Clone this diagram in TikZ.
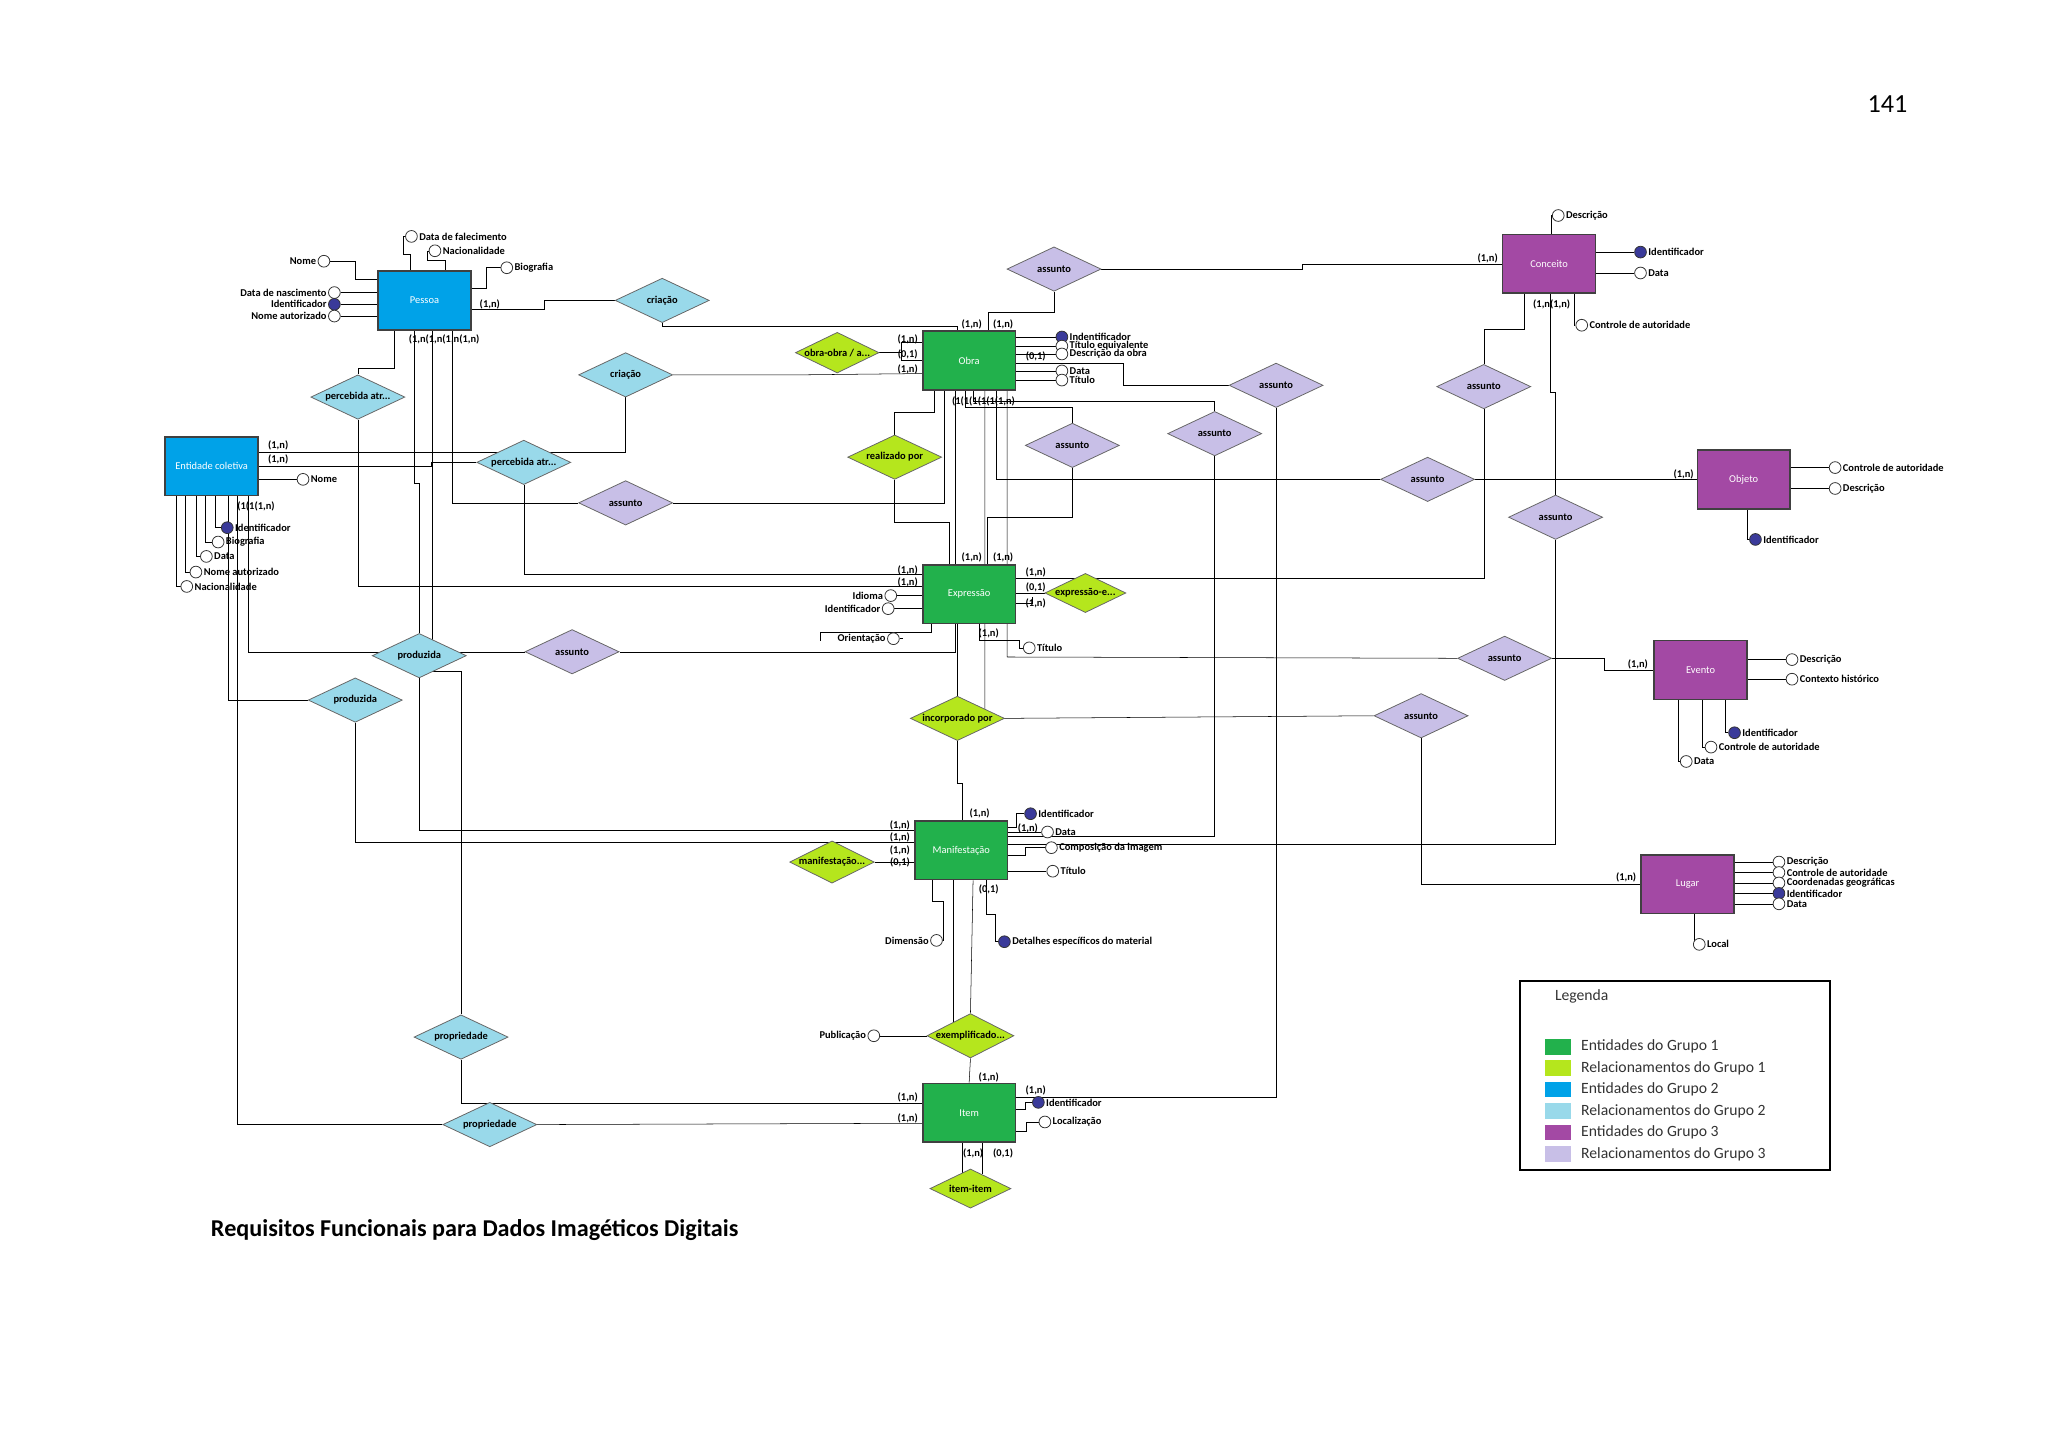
\documentclass[tikz,border=0pt]{standalone}
\usepackage{fontspec}
\setmainfont{Carlito}
\usetikzlibrary{shapes.geometric,calc,backgrounds}
\definecolor{gA}{HTML}{22B14C}\definecolor{gB}{HTML}{B5E61D}
\definecolor{bA}{HTML}{00A2E8}\definecolor{bB}{HTML}{99D9EA}
\definecolor{pA}{HTML}{A349A4}\definecolor{pB}{HTML}{C8BFE7}
\definecolor{idc}{HTML}{3A3A9A}
\tikzset{
 ent/.style={rectangle,draw=black!75,line width=1.2pt,minimum width=71pt,minimum height=45pt,inner sep=0,font=\fontsize{8}{9}\selectfont,text=white},
 rel/.style={diamond,aspect=2,draw=black!60,line width=0.6pt,minimum width=72pt,minimum height=34pt,inner sep=0,font=\fontsize{8}{9}\selectfont\bfseries},
 att/.style={circle,draw=black!80,fill=white,line width=0.6pt,minimum size=9pt,inner sep=0},
 key/.style={att,fill=idc},
 lbl/.style={font=\fontsize{8}{9}\selectfont\bfseries,inner sep=1pt,label distance=0pt},
 card/.style={font=\fontsize{8}{9}\selectfont\bfseries,inner sep=0},
}
\begin{document}
\begin{tikzpicture}[x=1pt,y=-1pt]
\useasboundingbox (0,0) rectangle (1568,1108);
\node[font=\fontsize{20}{22}\selectfont] (pg) at (1445,80) {141};
\node[anchor=west,font=\fontsize{18.5}{20}\selectfont\bfseries] (cap) at (158,942) {Requisitos Funcionais para Dados Imagéticos Digitais};
% entities
\node[ent,fill=bA] (pessoa) at (325,230) {Pessoa};
\node[ent,fill=bA] (ent) at (162,357) {Entidade coletiva};
\node[ent,fill=gA] (obra) at (742,276) {Obra};
\node[ent,fill=gA] (expr) at (742,455) {Expressão};
\node[ent,fill=gA] (manif) at (736,651) {Manifestação};
\node[ent,fill=gA] (item) at (742,852) {Item};
\node[ent,fill=pA] (conc) at (1186,202) {Conceito};
\node[ent,fill=pA] (obj) at (1335,367) {Objeto};
\node[ent,fill=pA] (evt) at (1302,513) {Evento};
\node[ent,fill=pA] (lug) at (1292,677) {Lugar};
% relationships
\node[rel,fill=pB] (as1) at (807,206) {assunto};
\node[rel,fill=bB] (cr1) at (507,230) {criação};
\node[rel,fill=bB] (cr2) at (479,287) {criação};
\node[rel,fill=gB,minimum width=64pt,minimum height=30pt] (oo) at (641,270) {obra-obra / a...};
\node[rel,fill=bB] (pe1) at (274,304) {percebida atr...};
\node[rel,fill=bB] (pe2) at (401,354) {percebida atr...};
\node[rel,fill=pB] (as2) at (479,385) {assunto};
\node[rel,fill=gB] (real) at (685,350) {realizado por};
\node[rel,fill=pB] (as4) at (821,341) {assunto};
\node[rel,fill=pB] (as5) at (930,332) {assunto};
\node[rel,fill=pB] (as9) at (977,295) {assunto};
\node[rel,fill=pB] (as10) at (1136,296) {assunto};
\node[rel,fill=pB] (as6) at (1093,367) {assunto};
\node[rel,fill=pB] (as11) at (1191,396) {assunto};
\node[rel,fill=gB,minimum width=62pt,minimum height=30pt] (expe) at (831,454) {expressão-e...};
\node[rel,fill=bB] (pr1) at (321,502) {produzida};
\node[rel,fill=pB] (as3) at (438,499) {assunto};
\node[rel,fill=bB] (pr2) at (272,536) {produzida};
\node[rel,fill=gB] (inc) at (733,550) {incorporado por};
\node[rel,fill=pB] (as7) at (1152,504) {assunto};
\node[rel,fill=pB] (as8) at (1088,548) {assunto};
\node[rel,fill=gB,minimum width=62pt,minimum height=30pt] (mm) at (637,660) {manifestação...};
\node[rel,fill=gB,minimum width=66pt] (exem) at (743,793) {exemplificado...};
\node[rel,fill=bB] (prp1) at (353,794) {propriedade};
\node[rel,fill=bB] (prp2) at (375,861) {propriedade};
\node[rel,fill=gB,minimum width=62pt,minimum height=30pt] (ii) at (743,910) {item-item};
% attributes
\node[att,label={[lbl]left:Nome}] (pNo) at (248,200) {};
\node[att,label={[lbl]left:Data de nascimento}] (pDn) at (256,224) {};
\node[key,label={[lbl]left:Identificador}] (pId) at (256,233) {};
\node[att,label={[lbl]left:Nome autorizado}] (pNa) at (256,242) {};
\node[att,label={[lbl]right:Data de falecimento}] (pDf) at (315,181) {};
\node[att,label={[lbl]right:Nacionalidade}] (pNc) at (333,192) {};
\node[att,label={[lbl]right:Biografia}] (pBi) at (388,205) {};
\node[att,label={[lbl]right:Nome}] (eNo) at (232,367) {};
\node[key,label={[lbl]right:Identificador}] (eId) at (174,404) {};
\node[att,label={[lbl]right:Biografia}] (eBi) at (167,415) {};
\node[att,label={[lbl]right:Data}] (eDa) at (158,426) {};
\node[att,label={[lbl]right:Nome autorizado}] (eNa) at (150,438) {};
\node[att,label={[lbl]right:Nacionalidade}] (eNc) at (143,449) {};
\node[key,label={[lbl]right:Indentificador}] (oId) at (813,258) {};
\node[att,label={[lbl]right:Título equivalente}] (oTe) at (813,265) {};
\node[att,label={[lbl]right:Descrição da obra}] (oDe) at (813,271) {};
\node[att,label={[lbl]right:Data}] (oDa) at (813,284) {};
\node[att,label={[lbl]right:Título}] (oTi) at (813,291) {};
\node[att,label={[lbl]right:Descrição}] (cDe) at (1193,165) {};
\node[key,label={[lbl]right:Identificador}] (cId) at (1256,193) {};
\node[att,label={[lbl]right:Data}] (cDa) at (1256,209) {};
\node[att,label={[lbl]right:Controle de autoridade}] (cCa) at (1211,249) {};
\node[att,label={[lbl]right:Controle de autoridade}] (bCa) at (1405,358) {};
\node[att,label={[lbl]right:Descrição}] (bDe) at (1405,374) {};
\node[key,label={[lbl]right:Identificador}] (bId) at (1344,413) {};
\node[att,label={[lbl]right:Descrição}] (vDe) at (1372,505) {};
\node[att,label={[lbl]right:Contexto histórico}] (vCh) at (1372,520) {};
\node[key,label={[lbl]right:Identificador}] (vId) at (1328,561) {};
\node[att,label={[lbl]right:Controle de autoridade}] (vCa) at (1310,572) {};
\node[att,label={[lbl]right:Data}] (vDa) at (1291,583) {};
\node[att,label={[lbl]right:Descrição}] (lDe) at (1362,660) {};
\node[att,label={[lbl]right:Controle de autoridade}] (lCa) at (1362,668) {};
\node[att,label={[lbl]right:Coordenadas geográficas}] (lCg) at (1362,676) {};
\node[key,label={[lbl]right:Identificador}] (lId) at (1362,684) {};
\node[att,label={[lbl]right:Data}] (lDa) at (1362,692) {};
\node[att,label={[lbl]right:Local}] (lLo) at (1301,723) {};
\node[att,label={[lbl]left:Idioma}] (xId) at (682,456) {};
\node[att,label={[lbl]left:Identificador}] (xIf) at (680,466) {};
\node[att,label={[lbl]left:Orientação}] (xOr) at (684,489) {};
\node[att,label={[lbl]right:Título}] (xTi) at (788,496) {};
\node[key,label={[lbl]right:Identificador}] (mId) at (789,623) {};
\node[att,label={[lbl]right:Data}] (mDa) at (802,637) {};
\node[att,label={[lbl]right:Composição da imagem}] (mCo) at (805,649) {};
\node[att,label={[lbl]right:Título}] (mTi) at (806,667) {};
\node[att,label={[lbl]left:Dimensão}] (mDi) at (717,720) {};
\node[key,label={[lbl]right:Detalhes específicos do material}] (mDe) at (769,721) {};
\node[att,label={[lbl]left:Publicação}] (mPu) at (669,793) {};
\node[key,label={[lbl]right:Identificador}] (iId) at (795,844) {};
\node[att,label={[lbl]right:Localização}] (iLo) at (800,859) {};
% connectors
\begin{scope}[on background layer,draw=black!65,line width=0.8pt]
\draw (pNo.east)--(272,200)--(272,214)--(pessoa.west|-0,214);
\draw (pDn.east)--(pessoa.west|-0,224);
\draw (pId.east)--(pessoa.west|-0,233);
\draw (pNa.east)--(pessoa.west|-0,242);
\draw (pDf.west)--(309,181)--(309,195)--(314,195)--(pessoa.north-|314,0);
\draw (pNc.west)--(327,192)--(327,199)--(341,199)--(pessoa.north-|341,0);
\draw (pBi.west)--(372,205)--(372,221)--(pessoa.east|-0,221);
\draw (pessoa.east|-0,237)--(417,237)--(417,230)--(cr1.west);
\draw (cr1.south)--(507,250)--(733,250)--(obra.north-|733,0);
\draw (pessoa.south-|302,0)--(302,282)--(274,282)--(pe1.north);
\draw (pessoa.south-|317,0)--(317,370)--(321,370)--(pr1.north);
\draw (pessoa.south-|331,0)--(331,514)--(353,514)--(prp1.north);
\draw (pessoa.south-|346,0)--(346,385)--(as2.west);
\draw (pr1.south)--(321,636)--(manif.west|-0,636);
\draw (pr2.south)--(272,645)--(manif.west|-0,645);
\draw (prp1.south)--(353,845)--(item.west|-0,845);
\draw (prp2.east)--(item.west|-0,860);
\draw (prp2.west)--(182,861)--(ent.south-|182,0);
\draw (ent.south-|175,0)--(175,536)--(pr2.west);
\draw (ent.south-|190,0)--(190,499)--(as3.west);
\draw (ent.east|-0,346)--(479,346)--(cr2.south);
\draw (ent.east|-0,357)--(330,357)--(330,354)--(pe2.west);
\draw (pe2.south)--(401,440)--(expr.west|-0,440);
\draw (pe1.south)--(274,449)--(expr.west|-0,449);
\draw (cr2.east)--(612,287)--(obra.west|-0,286);
\draw (eNo.west)--(ent.east|-0,367);
\draw (ent.south-|165,0)--(165,404)--(eId.west);
\draw (ent.south-|157,0)--(157,415)--(eBi.west);
\draw (ent.south-|150,0)--(150,426)--(eDa.west);
\draw (ent.south-|142,0)--(142,438)--(eNa.west);
\draw (ent.south-|135,0)--(135,449)--(eNc.west);
\draw (oo.east)--(690,270)--(690,262)--(obra.west|-0,262);
\draw (690,270)--(690,276)--(obra.west|-0,276);
\draw (obra.east|-0,258)--(oId.west);
\draw (obra.east|-0,265)--(oTe.west);
\draw (obra.east|-0,271)--(oDe.west);
\draw (obra.east|-0,284)--(oDa.west);
\draw (obra.east|-0,291)--(oTi.west);
\draw (obra.east|-0,278)--(860,278)--(860,295)--(as9.west);
\draw (as9.south)--(977,840)--(item.east|-0,840);
\draw (obra.north-|757,0)--(757,239)--(807,239)--(as1.south);
\draw (as1.east)--(997,206)--(997,202)--(conc.west);
\draw (as2.east)--(723,385)--(obra.south-|723,0);
\draw (obra.south-|715,0)--(715,316)--(685,316)--(real.north);
\draw (real.south)--(685,400)--(727,400)--(expr.north-|727,0);
\draw (obra.south-|731,0)--(731,499)--(as3.east);
\draw (obra.south-|739,0)--(739,312)--(821,312)--(as4.north);
\draw (as4.south)--(821,396)--(756,396)--(expr.north-|756,0);
\draw (obra.south-|745,0)--(745,307)--(930,307)--(as5.north);
\draw (as5.south)--(930,640)--(manif.east|-0,640);
\draw (obra.south-|754,0)--(754,548)--(inc.east);
\draw (inc.east)--(as8.west);
\draw (as8.south)--(1088,677)--(lug.west);
\draw (obra.south-|763,0)--(763,367)--(as6.west);
\draw (as6.east)--(obj.west);
\draw (obra.south-|771,0)--(771,503)--(as7.west);
\draw (as7.east)--(1228,504)--(1228,513)--(evt.west);
\draw (cDe.west)--(1188,165)--(conc.north-|1188,0);
\draw (conc.east|-0,193)--(cId.west);
\draw (conc.east|-0,209)--(cDa.west);
\draw (conc.south-|1167,0)--(1167,252)--(1136,252)--(as10.north);
\draw (as10.south)--(1136,443)--(expr.east|-0,443);
\draw (conc.south-|1187,0)--(1187,300)--(1191,300)--(as11.north);
\draw (as11.south)--(1191,646)--(manif.east|-0,646);
\draw (conc.south-|1205,0)--(1205,249)--(cCa.west);
\draw (obj.east|-0,358)--(bCa.west);
\draw (obj.east|-0,374)--(bDe.west);
\draw (obj.south-|1338,0)--(1338,413)--(bId.west);
\draw (evt.east|-0,505)--(vDe.west);
\draw (evt.east|-0,520)--(vCh.west);
\draw (evt.south-|1321,0)--(1321,561)--(vId.west);
\draw (evt.south-|1303,0)--(1303,572)--(vCa.west);
\draw (evt.south-|1285,0)--(1285,583)--(vDa.west);
\foreach \n/\y in {lDe/660,lCa/668,lCg/676,lId/684,lDa/692}{\draw (lug.east|-0,\y)--(\n.west);}
\draw (lug.south-|1297,0)--(1297,723)--(lLo.west);
\draw (expr.east|-0,454)--(expe.west);
\draw (expr.east|-0,462)--(790,462)--(790,457);
\draw (xId.east)--(expr.west|-0,456);
\draw (xIf.east)--(expr.west|-0,466);
\draw (expr.south-|713,0)--(713,484)--(628,484)--(628,491);
\draw (xOr.east)--(691,489);
\draw (expr.south-|750,0)--(750,490)--(780,490)--(780,496)--(xTi.west);
\draw (expr.south-|733,0)--(inc.north);
\draw (inc.south)--(733,600)--(737,600)--(manif.north-|737,0);
\draw (manif.east|-0,633)--(778,633)--(778,623)--(mId.west);
\draw (manif.east|-0,637)--(mDa.west);
\draw (manif.east|-0,655)--(785,655)--(785,649)--(mCo.west);
\draw (manif.east|-0,667)--(mTi.west);
\draw (manif.south-|714,0)--(714,690)--(722,690)--(722,720)--(mDi.east);
\draw (manif.south-|755,0)--(755,700)--(762,700)--(762,721)--(mDe.west);
\draw (mm.east)--(manif.west|-0,660);
\draw (manif.south-|730,0)--(730,784);
\draw (manif.south-|745,0)--(exem.north);
\draw (mPu.east)--(exem.west);
\draw (exem.south)--(item.north);
\draw (item.east|-0,849)--(785,849)--(785,844)--(iId.west);
\draw (item.east|-0,866)--(786,866)--(786,859)--(iLo.west);
\draw (item.south-|737,0)--(737,898);
\draw (item.south-|752,0)--(752,899);
\end{scope}
% cardinalities
\foreach \x/\y/\t in {375/233/{(1,n)},340/260/{(1,n(1,n(1,n(1,n)},
 213/341/{(1,n)},213/352/{(1,n)},196/388/{(1(1(1,n)},
 744/248/{(1,n)},768/248/{(1,n)},695/260/{(1,n)},695/271/{(0,1)},695/283/{(1,n)},793/273/{(0,1)},
 753/307/{(1(1(1(1(1(1,n)},
 744/427/{(1,n)},768/427/{(1,n)},695/437/{(1,n)},695/446/{(1,n)},793/438/{(1,n)},793/450/{(0,1)},793/462/{(1,n)},757/485/{(1,n)},
 1139/198/{(1,n)},1188/233/{(1,n(1,n)},1289/363/{(1,n)},1254/509/{(1,n)},1245/672/{(1,n)},
 750/623/{(1,n)},689/632/{(1,n)},689/641/{(1,n)},689/651/{(1,n)},689/660/{(0,1)},787/634/{(1,n)},757/681/{(0,1)},
 757/825/{(1,n)},695/840/{(1,n)},695/856/{(1,n)},793/835/{(1,n)},745/883/{(1,n)},768/883/{(0,1)}}
 {\node[card] at (\x,\y) {\t};}
% legend
\draw[line width=1.5pt] (1164,751) rectangle (1401,896);
\node[anchor=west,font=\fontsize{12}{14}\selectfont,text=black!80] (lg) at (1187,763) {Legenda};
\foreach \c/\t [count=\i] in {gA/Entidades do Grupo 1,gB/Relacionamentos do Grupo 1,bA/Entidades do Grupo 2,bB/Relacionamentos do Grupo 2,pA/Entidades do Grupo 3,pB/Relacionamentos do Grupo 3}{
 \fill[\c] (1183,{779+16.4*\i}) rectangle (1203,{791+16.4*\i});
 \node[anchor=west,font=\fontsize{12}{14}\selectfont,text=black!80] at (1207,{785+16.4*\i}) {\t};}
\end{tikzpicture}
\end{document}
